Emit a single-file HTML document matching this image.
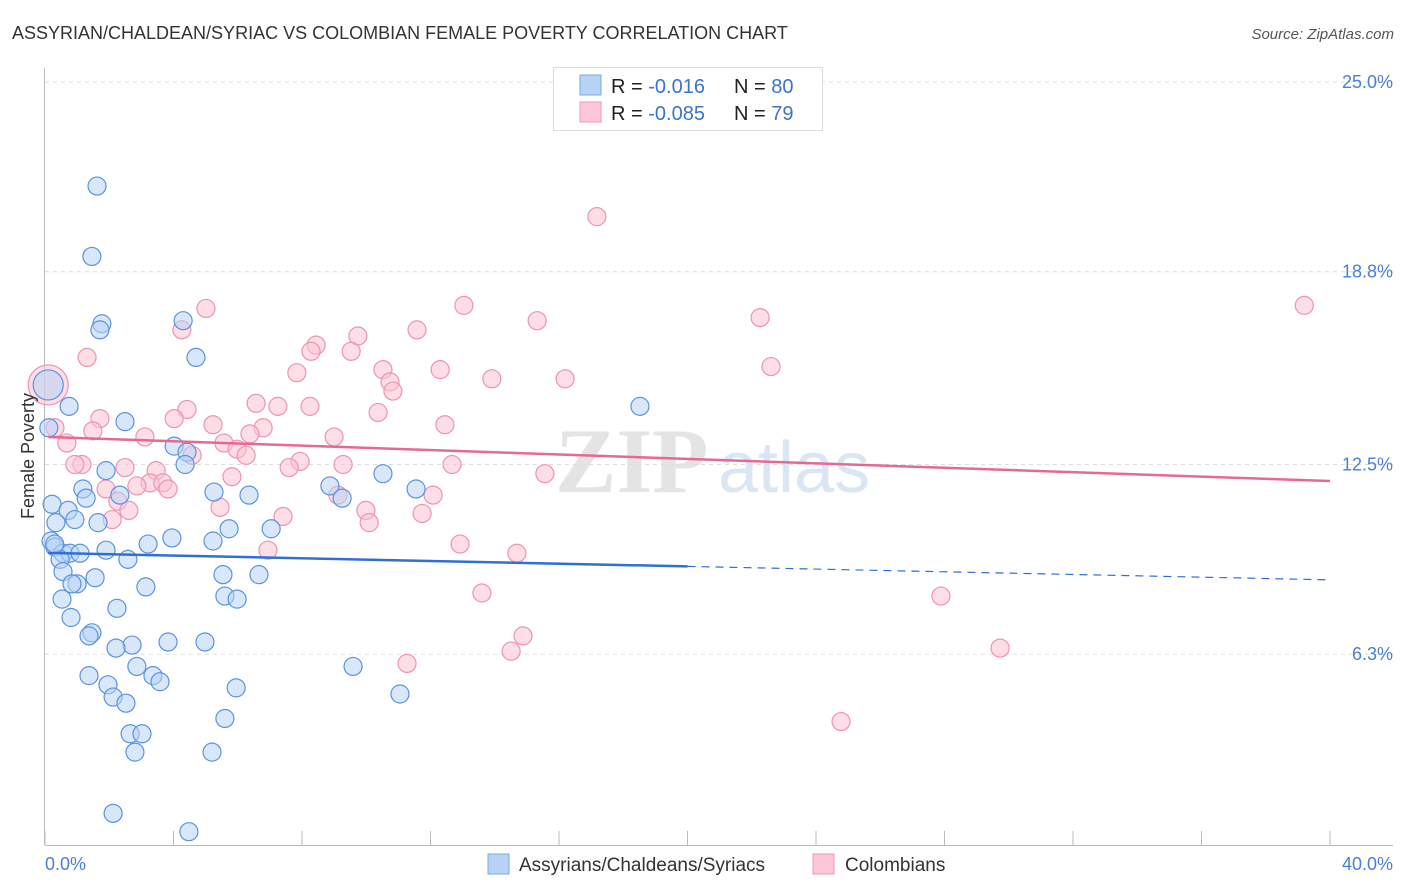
<!DOCTYPE html>
<html><head><meta charset="utf-8">
<style>
body{margin:0;background:#fff;font-family:"Liberation Sans",sans-serif;}
svg{display:block}
</style></head>
<body>
<svg id="chart" width="1406" height="892" xmlns="http://www.w3.org/2000/svg">
<text x="12" y="39" font-size="18" fill="#333">ASSYRIAN/CHALDEAN/SYRIAC VS COLOMBIAN FEMALE POVERTY CORRELATION CHART</text>
<text x="1394" y="39" font-size="15" fill="#555" font-style="italic" text-anchor="end">Source: ZipAtlas.com</text>
<g>
<text x="555" y="492" font-size="92" fill="#e4e4e4" font-family="Liberation Serif,serif" font-weight="bold">ZIP</text>
<text x="718" y="492" font-size="72" fill="#dbe6f5">atlas</text>
</g>
<g id="grid"></g>
<g id="axes"></g>
<g id="marks"></g>
<g id="trends"></g>
<text x="34" y="456" font-size="18" fill="#333" text-anchor="middle" transform="rotate(-90 34 456)">Female Poverty</text>
<text x="45" y="870" font-size="18" fill="#4a7fd6">0.0%</text>
<text x="1393" y="870" font-size="18" fill="#4a7fd6" text-anchor="end">40.0%</text>
<g>
<rect x="553.5" y="67.5" width="269" height="63" fill="#fff" stroke="#ddd"/>
<rect x="580" y="75" width="21" height="20" fill="#b8d3f5" stroke="#7aa9e6"/>
<rect x="580" y="102" width="21" height="20" fill="#fcc8d8" stroke="#ef9ab5"/>
<text x="611" y="93" font-size="20" fill="#222">R = <tspan fill="#3a73d0"> -0.016</tspan><tspan x="734">N = </tspan><tspan fill="#3a73d0">80</tspan></text>
<text x="611" y="120" font-size="20" fill="#222">R = <tspan fill="#3a73d0">-0.085</tspan><tspan x="734">N = </tspan><tspan fill="#3a73d0"> 79</tspan></text>
</g>
<g>
<rect x="488" y="854" width="21" height="20" fill="#b8d3f5" stroke="#7aa9e6"/>
<text x="519" y="871" font-size="19" fill="#333">Assyrians/Chaldeans/Syriacs</text>
<rect x="813" y="854" width="21" height="20" fill="#fcc8d8" stroke="#ef9ab5"/>
<text x="845" y="871" font-size="19" fill="#333">Colombians</text>
</g>
</svg>
<script>
const yTicks=[6.3,12.5,18.8,25.0];
const yTickLabels=["6.3%","12.5%","18.8%","25.0%"];
const xTicks=[0,4,8,12,16,20,24,28,32,36,40];
const blueX=[1.62,1.46,1.77,1.71,4.30,4.70,0.75,2.49,18.52,4.02,4.42,4.36,1.90,10.52,1.18,1.28,2.33,8.87,9.25,11.55,5.26,6.35,0.22,0.72,0.93,0.34,1.65,5.73,7.04,0.19,0.31,0.56,0.78,1.09,1.90,3.21,3.95,5.23,0.47,2.58,0.56,1.56,1.0,0.84,5.54,6.66,3.14,0.53,2.24,5.60,5.98,0.81,1.46,1.37,2.71,3.83,4.98,2.21,9.59,2.86,1.37,1.96,3.36,3.58,5.95,2.12,11.05,2.52,5.60,2.65,3.02,2.80,5.20,2.12,4.48,0.1,0.12,0.3];
const blueY=[21.6,19.3,17.1,16.9,17.2,16.0,14.4,13.9,14.4,13.1,12.9,12.5,12.3,12.2,11.7,11.4,11.5,11.8,11.4,11.7,11.6,11.5,11.2,11.0,10.7,10.6,10.6,10.4,10.4,10.0,9.8,9.6,9.6,9.6,9.7,9.9,10.1,10.0,9.4,9.4,9.0,8.8,8.6,8.6,8.9,8.9,8.5,8.1,7.8,8.2,8.1,7.5,7.0,6.9,6.6,6.7,6.7,6.5,5.9,5.9,5.6,5.3,5.6,5.4,5.2,4.9,5.0,4.7,4.2,3.7,3.7,3.1,3.1,1.1,0.5,15.1,13.7,9.9];
const pinkX=[17.18,39.2,5.01,13.04,15.32,22.26,4.26,11.58,9.74,8.44,8.28,1.31,9.53,22.6,7.84,12.30,10.52,13.91,16.19,10.74,10.83,6.57,4.42,7.25,8.25,10.37,1.71,4.02,5.23,12.45,1.49,6.79,6.38,3.11,9.0,5.57,0.68,5.98,6.26,4.58,7.94,1.15,0.93,2.49,3.46,9.28,7.60,12.67,15.56,5.82,3.27,2.86,3.67,3.83,1.90,2.27,9.12,12.08,2.61,5.45,9.99,11.74,7.41,10.09,2.09,12.92,6.94,14.69,27.89,13.6,14.88,29.73,14.51,11.27,24.78,0.1,0.31];
const pinkY=[20.6,17.7,17.6,17.7,17.2,17.3,16.9,16.9,16.7,16.4,16.2,16.0,16.2,15.7,15.5,15.6,15.6,15.3,15.3,15.2,14.9,14.5,14.3,14.4,14.4,14.2,14.0,14.0,13.8,13.8,13.6,13.7,13.5,13.4,13.4,13.2,13.2,13.0,12.8,12.8,12.6,12.5,12.5,12.4,12.3,12.5,12.4,12.5,12.2,12.1,11.9,11.8,11.9,11.7,11.7,11.3,11.5,11.5,11.0,11.1,11.0,10.9,10.8,10.6,10.7,9.9,9.7,9.6,8.2,8.3,6.9,6.5,6.4,6.0,4.1,15.1,13.7];
const blueTrend=[9.61,8.73];
const pinkTrend=[13.40,11.96];
const blueSolidEnd=20;

const NS="http://www.w3.org/2000/svg";
const X0=45,X1=1330,Y0=847,PXPER=30.6;
const sx=v=>X0+v/40*(X1-X0);
const sy=v=>Y0-v*PXPER;
function mk(tag,attrs,parent){const e=document.createElementNS(NS,tag);for(const k in attrs)e.setAttribute(k,attrs[k]);parent.appendChild(e);return e;}
const grid=document.getElementById('grid'),axes=document.getElementById('axes'),marks=document.getElementById('marks'),trends=document.getElementById('trends');
yTicks.forEach((t,i)=>{
  const l=mk('line',{x1:45,x2:1393,y1:sy(t),y2:sy(t),stroke:'#ddd','stroke-dasharray':'4,4'},grid);
  
  
  const tx=mk('text',{x:1393,y:sy(t)+6,'font-size':18,fill:'#4a7fd6','text-anchor':'end'},grid);
  tx.textContent=yTickLabels[i];
  
  
});
const ya=mk('line',{x1:44.5,x2:44.5,y1:68,y2:845,stroke:'#bbb'},axes);


const xa=mk('line',{x1:45,x2:1393,y1:845.5,y2:845.5,stroke:'#bbb'},axes);


xTicks.forEach(t=>{
  const l=mk('line',{x1:sx(t),x2:sx(t),y1:831,y2:845,stroke:'#bbb'},axes);
  
  
});
function pts(xs,ys,fill,stroke,name){
  xs.forEach((x,i)=>{
    const big=(i===xs.length-2&&name==='pink-point')||(i===xs.length-3&&name==='blue-point');
    const c=mk('circle',{cx:sx(x),cy:sy(ys[i]),r:big?(name==='pink-point'?20:15):9,fill:fill,'fill-opacity':0.55,stroke:stroke,'stroke-width':1.2},marks);
    
    
  });
}
pts(pinkX,pinkY,'#fbc3d4','#ee93b0','pink-point');
pts(blueX,blueY,'#b8d3f5','#5b93e0','blue-point');
const bm=blueTrend[0]+(blueTrend[1]-blueTrend[0])*blueSolidEnd/40;
let t1=mk('line',{x1:sx(0.1),y1:sy(blueTrend[0]),x2:sx(blueSolidEnd),y2:sy(bm),stroke:'#2f6fd6','stroke-width':2.5},trends);


let t2=mk('line',{x1:sx(blueSolidEnd),y1:sy(bm),x2:sx(40),y2:sy(blueTrend[1]),stroke:'#2f6fd6','stroke-width':1.2,'stroke-dasharray':'8,6'},trends);


let t3=mk('line',{x1:sx(0.1),y1:sy(pinkTrend[0]),x2:sx(40),y2:sy(pinkTrend[1]),stroke:'#e46a93','stroke-width':2.5},trends);


</script>
</body></html>
